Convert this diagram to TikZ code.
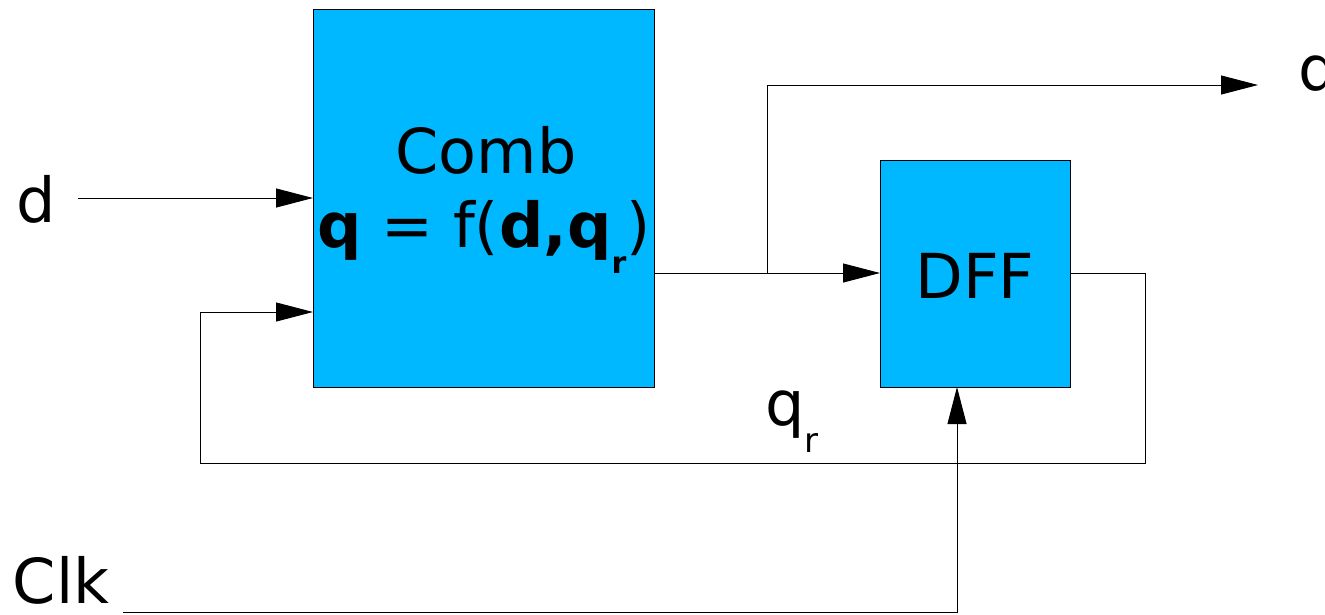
\documentclass[tikz,border=0pt]{standalone}
\usepackage{fontspec}
\setmainfont{DejaVu Sans}
\usetikzlibrary{arrows.meta}
\definecolor{blockblue}{HTML}{00B8FF}
\tikzset{
  block/.style={draw=black, line width=0.8pt, fill=blockblue},
  wire/.style={draw=black, line width=1pt},
  sig/.style={wire, -{Triangle[length=37pt, width=19pt]}},
  lbl/.style={anchor=base, inner sep=0pt, font=\fontsize{62}{62}\selectfont}
}
% lowered small "r" used as a subscript: #1 = drop, #2 = size
\newcommand{\subr}[2]{\raisebox{-#1pt}{\fontsize{#2}{#2}\selectfont r}}
\begin{document}
\begin{tikzpicture}[x=1pt, y=-1pt]
  \useasboundingbox (0,0) rectangle (1325,614);

  % blocks
  \path[block] (313,9) rectangle (654,387);
  \path[block] (880,160) rectangle (1070,387);
  \node[lbl] (combtitle) at (486,173) {Comb};
  \node[lbl] (combeq) at (484,247) {\textbf{q} = f(\textbf{d,q\subr{26}{30}})};
  \node[lbl] (dfftext) at (975,298) {DFF};

  % labels
  \node[lbl] (din) at (36,222) {d};
  \node[lbl] (clk) at (61,603) {Clk};
  \node[lbl, anchor=base west] (qr) at (765,425) {q\subr{27}{34}};
  \node[lbl, anchor=base west] (qout) at (1298,90) {q};

  % connection points
  \coordinate (dstart) at (78,198);
  \coordinate (combinD) at (313,198);
  \coordinate (combinQ) at (313,312);
  \coordinate (combout) at (654,273);
  \coordinate (split) at (767,273);
  \coordinate (dffin) at (880,273);
  \coordinate (dffout) at (1070,273);
  \coordinate (fbR) at (1145,463);
  \coordinate (fbL) at (200,463);
  \coordinate (outtop) at (767,85);
  \coordinate (outend) at (1258,85);
  \coordinate (clkstart) at (123,612);
  \coordinate (clkcorner) at (957,612);
  \coordinate (dffclk) at (957,387);

  % wires
  \draw[sig] (dstart) -- (combinD);
  \draw[sig] (combout) -- (dffin);
  \draw[sig] (split) -- (outtop) -- (outend);
  \draw[sig] (dffout) -| (fbR) -- (fbL) |- (combinQ);
  \draw[sig] (clkstart) -- (clkcorner) -- (dffclk);
\end{tikzpicture}
\end{document}
